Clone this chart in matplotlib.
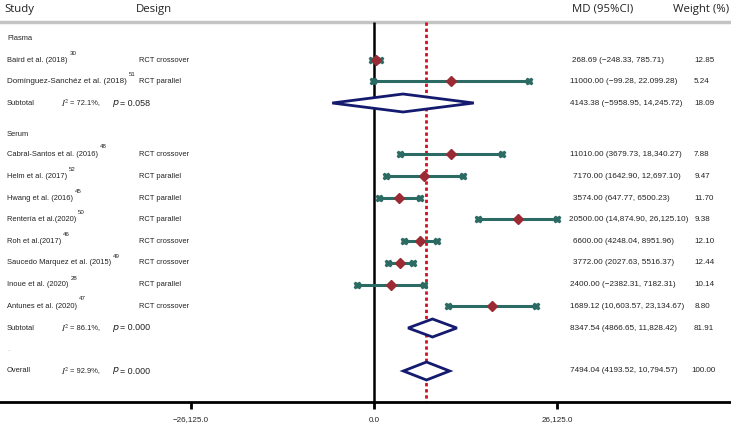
import matplotlib
matplotlib.use("Agg")
import matplotlib.pyplot as plt
from matplotlib.patches import Polygon
from matplotlib.transforms import blended_transform_factory

# ---------------- data ----------------
studies = ["Baird et al. (2018)", "Domínguez-Sanchéz et al. (2018)",
           "Cabral-Santos et al. (2016)", "Helm et al. (2017)", "Hwang et al. (2016)",
           "Rentería et al.(2020)", "Roh et al.(2017)", "Saucedo Marquez et al. (2015)",
           "Inoue et al. (2020)", "Antunes et al. (2020)"]
refs = ["30", "51", "48", "52", "45", "50", "46", "49", "28", "47"]
designs = ["RCT crossover", "RCT parallel", "RCT crossover", "RCT parallel", "RCT parallel",
           "RCT parallel", "RCT crossover", "RCT crossover", "RCT parallel", "RCT crossover"]
md = [268.69, 11000.00, 11010.00, 7170.00, 3574.00, 20500.00, 6600.00, 3772.00, 2400.00, 16869.12]
ci_lo = [-248.33, -99.28, 3679.73, 1642.90, 647.77, 14874.90, 4248.04, 2027.63, -2382.31, 10603.57]
ci_hi = [785.71, 22099.28, 18340.27, 12697.10, 6500.23, 26125.10, 8951.96, 5516.37, 7182.31, 23134.67]
md_text = ["268.69 (\u2212248.33, 785.71)", "11000.00 (\u221299.28, 22.099.28)",
           "11010.00 (3679.73, 18,340.27)", "7170.00 (1642.90, 12,697.10)",
           "3574.00 (647.77, 6500.23)", "20500.00 (14,874.90, 26,125.10)",
           "6600.00 (4248.04, 8951.96)", "3772.00 (2027.63, 5516.37)",
           "2400.00 (\u22122382.31, 7182.31)", "1689.12 (10,603.57, 23,134.67)"]
weights = ["12.85", "5.24", "7.88", "9.47", "11.70", "9.38", "12.10", "12.44", "10.14", "8.80"]

sub_names = ["Subtotal", "Subtotal", "Overall"]
sub_md = [4143.38, 8347.54, 7494.04]
sub_lo = [-5958.95, 4866.65, 4193.52]
sub_hi = [14245.72, 11828.42, 10794.57]
sub_text = ["4143.38 (\u22125958.95, 14,245.72)", "8347.54 (4866.65, 11,828.42)",
            "7494.04 (4193.52, 10,794.57)"]
sub_weights = ["18.09", "81.91", "100.00"]
sub_i2 = ["72.1%", "86.1%", "92.9%"]
sub_p = ["0.058", "0.000", "0.000"]

group_names = ["Plasma", "Serum"]
xticks = [-26125.0, 0.0, 26125.0]
xtick_labels = ["\u221226,125.0", "0.0", "26,125.0"]

# ---------------- layout (pixel rows) ----------------
W, H = 731, 425
study_y = [60, 81, 154, 176, 198, 219, 241, 263, 285, 306]
sub_y = [103, 328, 371]
group_y = [38, 135]
md_x = [572, 570, 570, 573, 573, 569, 573, 573, 570, 570]
wt_x = [694, 694, 694, 695, 694, 695, 694, 694, 694, 695]
x0_px = 374.0
units_per_px = 26125.0 / 183.0

fig = plt.figure(figsize=(W / 100, H / 100), dpi=100)
ax = fig.add_axes([0, 0, 1, 1])
ax.set_xlim(-x0_px * units_per_px, (W - x0_px) * units_per_px)
ax.set_ylim(H, 0)
ax.axis("off")
tr = blended_transform_factory(ax.transAxes, ax.transData)

ROW = "Liberation Sans"
HEAD = "Open Sans"
teal = "#2b6b63"
red = "#9a2a33"
navy = "#141a6e"
ink = "#222222"


def txt(px, y, s, size=5.0, family=ROW, **kw):
    return ax.text(px / W, y, s, transform=tr, fontsize=size, family=family,
                   va="center", color=ink, **kw)


# headers
txt(4, 9, "Study", 8.2, HEAD)
txt(136, 9, "Design", 8.2, HEAD)
txt(572, 9, "MD (95%CI)", 8.2, HEAD)
txt(673, 9, "Weight (%)", 8.2, HEAD)
ax.axhline(22, color="#c4c4c4", lw=2.5)

# vertical lines
ax.vlines(0, 22, 402, color="black", lw=1.8, zorder=2)
ax.vlines(sub_md[2], 22, 402, color="#d4101f", lw=2.0, linestyles=(0, (1.2, 1.0)), zorder=2)

# group labels
for g, y in zip(group_names, group_y):
    txt(7, y, g, 5.4)
ax.text(7 / W, 349, ".", transform=tr, fontsize=5, color="#aaaaaa", va="center")

fig.canvas.draw()
renderer = fig.canvas.get_renderer()

# studies
for i in range(len(studies)):
    y = study_y[i]
    size = 5.8 if i == 1 else 5.4
    t = txt(7, y, studies[i], size)
    bb = t.get_window_extent(renderer)
    ax.text((bb.x1 + 2) / W, y - 7, refs[i], transform=tr, fontsize=4.4,
            family=ROW, va="center", color=ink)
    txt(139, y, designs[i], 5.4)
    txt(md_x[i], y, md_text[i], 5.9)
    txt(wt_x[i], y, weights[i], 5.8)
    ax.plot([ci_lo[i], ci_hi[i]], [y, y], color=teal, lw=2.2, zorder=3,
            solid_capstyle="butt")
    ax.plot([ci_lo[i], ci_hi[i]], [y, y], ls="none", marker="X", ms=5.0,
            color=teal, mec=teal, zorder=4)
    ax.plot([md[i]], [y], ls="none", marker="D", ms=5, color=red, zorder=5)

# subtotals / overall
for j in range(3):
    y = sub_y[j]
    txt(7, y, sub_names[j], 5.4)
    ax.text(61 / W, y, r"$I^2$", transform=tr, fontsize=6.2, va="center", color=ink,
            math_fontfamily="stix")
    txt(70, y, "= " + sub_i2[j] + ",", 5.4)
    ax.text(112 / W, y, r"$p$", transform=tr, fontsize=6.8, va="center",
            color=ink, math_fontfamily="dejavusans")
    txt(120, y, "= " + sub_p[j], 6.4)
    txt(570, y, sub_text[j], 5.9)
    txt(694 if j < 2 else 691, y, sub_weights[j], 5.8)
    h = 9
    poly = Polygon([(sub_lo[j], y), (sub_md[j], y - h), (sub_hi[j], y), (sub_md[j], y + h)],
                   closed=True, facecolor="white", edgecolor=navy, lw=2.0, zorder=4)
    ax.add_patch(poly)

# bottom axis
ax.axhline(402, color="black", lw=2.0)
ax.vlines(xticks, 402, 409, color="black", lw=2.0)
for xv, lab in zip(xticks, xtick_labels):
    ax.text(xv, 420, lab, fontsize=5.8, family=ROW, ha="center", va="center", color=ink)

fig.savefig("out.png", dpi=100)
